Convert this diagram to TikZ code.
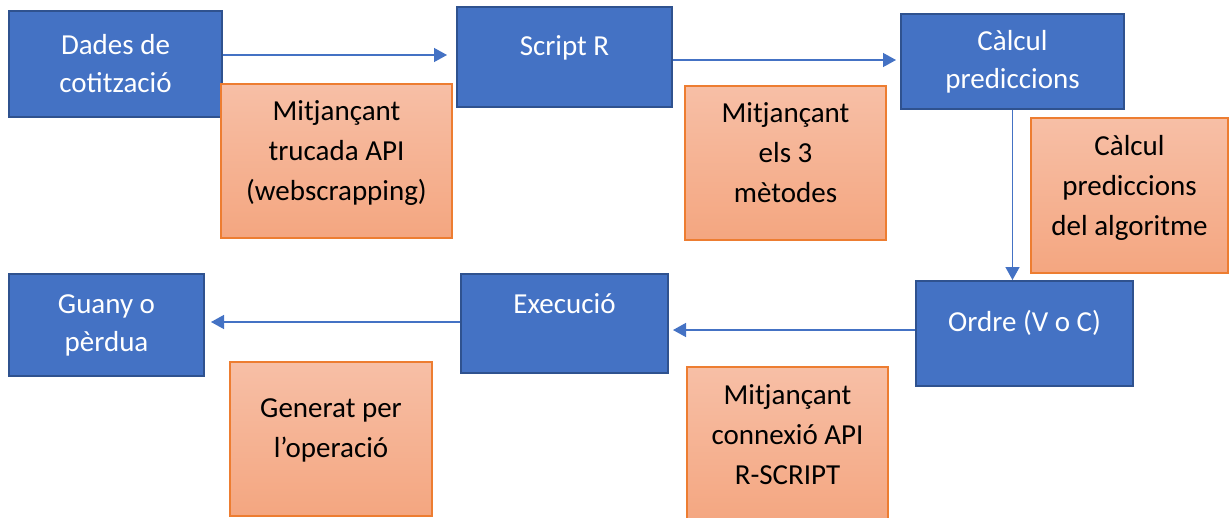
\documentclass[tikz,border=0pt]{standalone}
\usepackage{fontspec}
\setmainfont{Carlito}
\usetikzlibrary{arrows.meta}

\definecolor{boxblue}{HTML}{4472C4}
\definecolor{boxedge}{HTML}{2F528F}
\definecolor{notetop}{HTML}{F7BFA6}
\definecolor{notebot}{HTML}{F4A680}
\definecolor{noteedge}{HTML}{ED7D31}

\tikzset{
  stepbox/.style={draw=boxedge, line width=2pt, fill=boxblue, text=white,
    align=center, inner sep=0pt, font=\fontsize{29}{38}\selectfont},
  notebox/.style={draw=noteedge, line width=1.5pt, top color=notetop,
    bottom color=notebot, text=black, align=center, inner sep=0pt,
    font=\fontsize{29}{40}\selectfont,
    execute at begin node={\rule[-21pt]{0pt}{40pt}},
    execute at end node={\rule[-21pt]{0pt}{40pt}}},
  flow/.style={->, draw=boxblue, line width=1.4pt}
}

\begin{document}
\begin{tikzpicture}[x=1pt, y=-1pt, >={Triangle[length=13pt,width=14pt]}]
  \useasboundingbox (0,0) rectangle (1229,517);

  % steps of the process
  \node[stepbox, minimum width=213pt, minimum height=106pt] (dades) at (115.5,64) {Dades de\\cotització};
  \node[stepbox, minimum width=215pt, minimum height=100pt] (script) at (564.5,57) {\raisebox{9pt}[\height][\depth]{Script R}};
  \node[stepbox, minimum width=223pt, minimum height=95pt] (calcul) at (1012.5,61.5) {Càlcul\\prediccions};
  \node[stepbox, minimum width=217pt, minimum height=105pt] (ordre) at (1024.5,333.5) {\raisebox{11pt}[\height][\depth]{Ordre (V o C)}};
  \node[stepbox, minimum width=207pt, minimum height=99pt] (execucio) at (564.5,323.5) {\raisebox{20pt}[\height][\depth]{Execució}};
  \node[stepbox, minimum width=195pt, minimum height=102pt] (guany) at (106.5,325) {Guany o\\pèrdua};

  % arrows between steps
  \draw[flow, shorten >=9pt] ([yshift=9pt]dades.east) coordinate (p1) -- (p1 -| script.west);
  \draw[flow, shorten >=4pt] ([yshift=-3pt]script.east) coordinate (p2) -- (p2 -| calcul.west);
  \draw[flow] (calcul.south) -- (calcul.south |- ordre.north);
  \draw[flow, shorten >=4pt] ([yshift=3.5pt]ordre.west) coordinate (p3) -- (p3 -| execucio.east);
  \draw[flow, shorten >=6pt] ([yshift=1.5pt]execucio.west) coordinate (p4) -- (p4 -| guany.east);

  % notes on each step
  \node[notebox, minimum width=231pt, minimum height=154pt] (nota1) at (336.5,161) {Mitjançant\\trucada API\\(webscrapping)};
  \node[notebox, minimum width=201pt, minimum height=154pt] (nota2) at (785.5,163) {Mitjançant\\els 3\\mètodes};
  \node[notebox, minimum width=197pt, minimum height=155pt] (nota3) at (1129.5,195.5) {Càlcul\\prediccions\\del algoritme};
  \node[notebox, minimum width=201pt, minimum height=157pt] (nota4) at (787.5,445.5) {Mitjançant\\connexió API\\R-SCRIPT};
  \node[notebox, minimum width=202pt, minimum height=154pt] (nota5) at (331,439) {Generat per\\l’operació};
\end{tikzpicture}
\end{document}
